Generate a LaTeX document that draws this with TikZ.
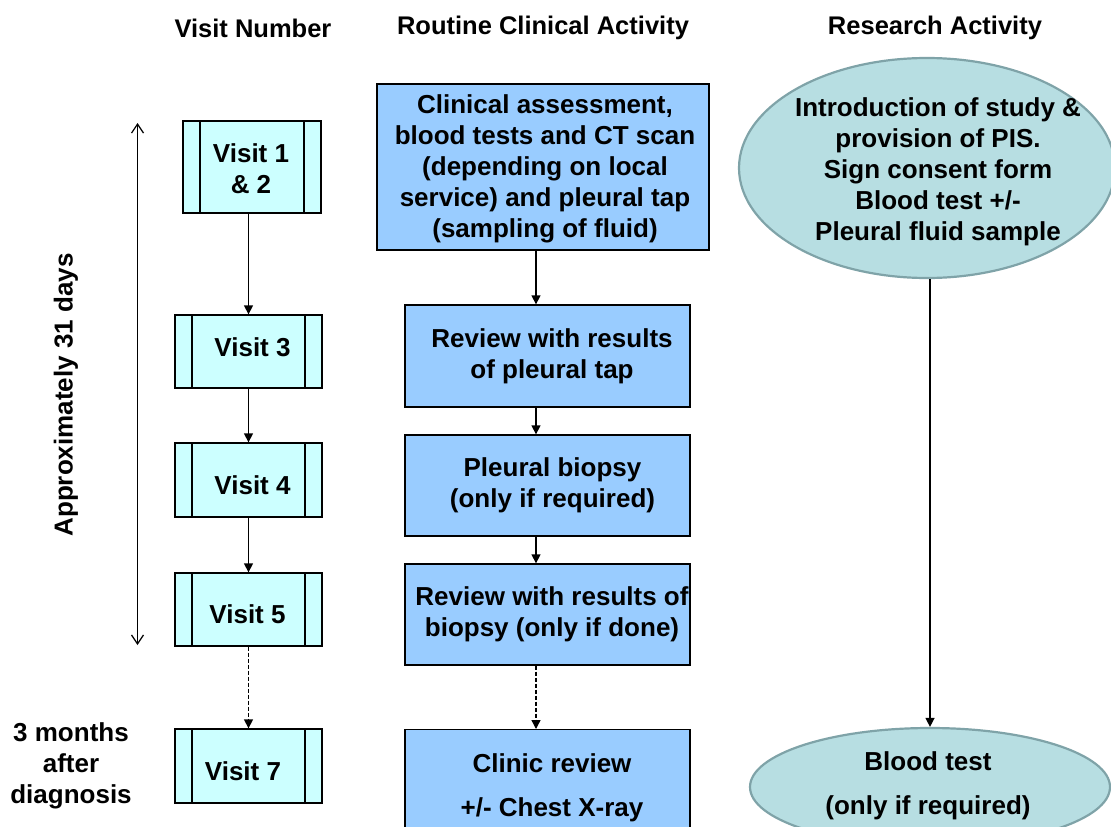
\documentclass[tikz,border=0pt]{standalone}
\usepackage{fontspec}
\setmainfont{Liberation Sans}
\usetikzlibrary{arrows.meta,shapes.geometric}
\definecolor{visitcol}{HTML}{CCFFFF}
\definecolor{bluecol}{HTML}{99CCFF}
\definecolor{ellfill}{HTML}{B7DEE2}
\definecolor{elldraw}{HTML}{7FA3A8}
\tikzset{
  txt/.style={font=\fontsize{26}{31}\selectfont\bfseries, align=center, inner sep=0pt},
  head/.style={font=\fontsize{25.5}{31}\selectfont\bfseries, align=center, inner sep=0pt},
  visitbox/.style={draw, fill=visitcol, line width=1.3pt, inner sep=0pt,
    path picture={\draw[line width=1.3pt]
      ([xshift=17pt]path picture bounding box.north west) -- ([xshift=17pt]path picture bounding box.south west)
      ([xshift=-17pt]path picture bounding box.north east) -- ([xshift=-17pt]path picture bounding box.south east);}},
  bluebox/.style={draw, fill=bluecol, line width=1.3pt, inner sep=0pt},
  ellbox/.style={ellipse, draw=elldraw, fill=ellfill, line width=2.2pt, inner sep=0pt},
  arr/.style={line width=1.3pt, -{Triangle[length=9pt,width=9pt]}},
  darr/.style={arr, dash pattern=on 4pt off 2pt},
  tarr/.style={line width=1.2pt, {Straight Barb[length=9pt,width=12pt]}-{Straight Barb[length=9pt,width=12pt]}}
}
\begin{document}
\begin{tikzpicture}[x=1pt,y=-1pt]
\useasboundingbox (0,0) rectangle (1111,827);
\clip (0,0) rectangle (1111,827);
% headers
\node[head] (h1) at (253,28) {Visit Number};
\node[head] (h2) at (543,28) {Routine Clinical Activity};
\node[head] (h3) at (935,28) {Research Activity};
% visit boxes
\node[visitbox, minimum width=138pt, minimum height=92pt] (v1) at (252,167) {};
\node[visitbox, minimum width=147pt, minimum height=73pt] (v3) at (248.5,351.5) {};
\node[visitbox, minimum width=147pt, minimum height=74pt] (v4) at (248.5,480) {};
\node[visitbox, minimum width=147pt, minimum height=73pt] (v5) at (248.5,609.5) {};
\node[visitbox, minimum width=147pt, minimum height=74pt] (v7) at (248.5,766) {};
\node[txt] (v1t) at (251,169) {Visit 1\\\& 2};
\node[txt] (v3t) at (252.5,347.5) {Visit 3};
\node[txt] (v4t) at (252.5,485) {Visit 4};
\node[txt] (v5t) at (247.5,614) {Visit 5};
\node[txt] (v7t) at (243,771) {Visit 7};
% blue boxes
\node[bluebox, minimum width=332pt, minimum height=166pt] (b1) at (543,167) {};
\node[bluebox, minimum width=285pt, minimum height=102pt] (b2) at (547.5,356) {};
\node[bluebox, minimum width=285pt, minimum height=101pt] (b3) at (547.5,485.5) {};
\node[bluebox, minimum width=285pt, minimum height=101pt] (b4) at (547.5,614.5) {};
\node[bluebox, minimum width=285pt, minimum height=130pt, anchor=north] (b5) at (547.5,729) {};
\node[txt] (b1t) at (545,169) {Clinical assessment,\\blood tests and CT scan\\(depending on local\\service) and pleural tap\\(sampling of fluid)};
\node[txt] (b2t) at (552,356) {Review with results\\of pleural tap};
\node[txt] (b3t) at (552.5,485.5) {Pleural biopsy\\(only if required)};
\node[txt] (b4t) at (552,614.5) {Review with results of\\biopsy (only if done)};
\node[txt] (b5a) at (552,763) {Clinic review};
\node[txt] (b5b) at (552,810) {+/- Chest X-ray};
% ellipses
\node[ellbox, minimum width=376pt, minimum height=220pt] (e1) at (927,168) {};
\node[txt] (e1t) at (938,172) {Introduction of study \&\\provision of PIS.\\Sign consent form\\Blood test +/-\\Pleural fluid sample};
\node[ellbox, minimum width=360pt, minimum height=118pt] (e2) at (930,787) {};
\node[txt] (e2a) at (928,761) {Blood test};
\node[txt] (e2b) at (928,808) {(only if required)};
% side labels
\node[txt, rotate=90] (days) at (66,395) {Approximately 31 days};
\node[txt] (months) at (71,766) {3 months\\after\\diagnosis};
\coordinate (t1) at (137.5,123);
\coordinate (t2) at (137.5,645);
\draw[tarr] (t1) -- (t2);
% arrows
\draw[arr] (v3.north |- v1.south) -- (v3.north);
\draw[arr] (v3) -- (v4);
\draw[arr] (v4) -- (v5);
\draw[darr] (v5) -- (v7);
\draw[arr] ([xshift=-7pt]b1.south) -- ([xshift=-11.5pt]b2.north);
\draw[arr] ([xshift=-11.5pt]b2.south) -- ([xshift=-11.5pt]b3.north);
\draw[arr] ([xshift=-11.5pt]b3.south) -- ([xshift=-11.5pt]b4.north);
\draw[darr] ([xshift=-11.5pt]b4.south) -- ([xshift=-11.5pt]b5.north);
\draw[arr] (e2.north |- e1.south) -- (e2.north);
\end{tikzpicture}
\end{document}
